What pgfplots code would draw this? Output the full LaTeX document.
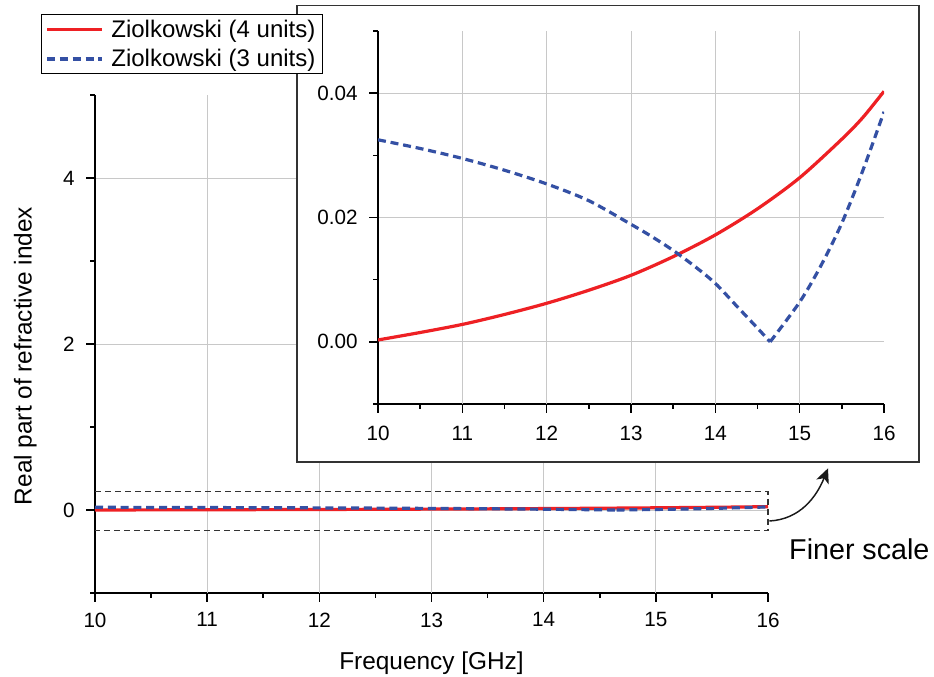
\documentclass[border=0pt]{standalone}
\usepackage{pgfplots}
\pgfplotsset{compat=1.18}
\usepackage{fontspec}
\setmainfont{Liberation Sans}
\usetikzlibrary{arrows.meta}
\definecolor{cred}{RGB}{238,32,36}
\definecolor{cblue}{RGB}{52,80,164}
\definecolor{cgrid}{RGB}{200,200,200}

\pgfplotstableread{
x y
10.0 0.0003
10.5 0.0015
11.0 0.0028
11.5 0.0044
12.0 0.0062
12.5 0.0083
13.0 0.0107
13.5 0.0137
14.0 0.0172
14.5 0.0214
15.0 0.0264
15.5 0.0326
15.75 0.0361
16.0 0.0403
}\redtab

\pgfplotstableread{
x y
10.0 0.0325
10.5 0.0311
11.0 0.0295
11.5 0.0276
12.0 0.0254
12.5 0.0227
13.0 0.0189
13.25 0.0169
13.5 0.0147
13.75 0.0122
14.0 0.0094
14.25 0.0058
14.5 0.0022
14.65 0.0000
}\bluetabA

\pgfplotstableread{
x y
14.65 0.0000
15.0 0.0064
15.25 0.0122
15.5 0.0191
15.75 0.0276
16.0 0.0370
}\bluetabB

\pgfplotsset{
  common/.style={
    scale only axis,
    xmin=10, xmax=16,
    axis x line*=bottom, axis y line*=left,
    axis line style={line width=1.2pt, black},
    tick align=outside,
    xtick={10,...,16}, minor xtick={10.5,11.5,...,15.5},
    major tick length=6.75pt, minor tick length=3.4pt,
    every tick/.style={black, line width=1.2pt},
    ymajorgrids,
    extra x ticks={11,12,13,14,15}, extra x tick labels={},
    extra x tick style={grid=major, major tick length=0pt},
    grid style={cgrid, line width=0.7pt},
    tick label style={font=\fontsize{15.5}{18}\selectfont},
    yticklabel style={xshift=-5pt},
    /pgf/number format/assume math mode=true,
  },
  redline/.style={cred, line width=2.4pt, no marks, smooth},
  blueline/.style={cblue, line width=2.4pt, no marks, smooth, dash pattern=on 6pt off 3.6pt},
}

\begin{document}
\begin{tikzpicture}
\useasboundingbox (0,0) rectangle (700.5pt,507.75pt);

\begin{axis}[common,
  at={(71.25pt,63pt)}, anchor=south west,
  width=504.75pt, height=373.5pt,
  ymin=-1, ymax=5,
  ytick={0,2,4}, minor ytick={-1,1,3,5},
  xticklabel style={yshift=-4.5pt},
  xlabel={Frequency [GHz]}, ylabel={Real part of refractive index},
  label style={font=\fontsize{18.3}{21}\selectfont},
  xlabel style={yshift=-4.5pt},
  ylabel style={yshift=13pt, xshift=-9pt},
  clip=false,
]
\addplot[redline] table[x=x,y=y] {\redtab};
\addplot[blueline] table[x=x,y=y] {\bluetabA};
\addplot[blueline] table[x=x,y=y] {\bluetabB};
\draw[black!80, line width=0.8pt, dash pattern=on 4.5pt off 3pt]
  (axis cs:10,0.22) -- (axis cs:16,0.22) -- (axis cs:16,-0.245) -- (axis cs:10,-0.245);
\end{axis}

\draw[-{Stealth[length=11pt,width=10pt,inset=3pt]}, line width=1.1pt, black!90]
  (577pt,117pt) to[out=3,in=-112] (621pt,156.5pt);
\node[font=\fontsize{21.5}{25}\selectfont, anchor=center] at (644.5pt,95.5pt) {Finer scale};

\filldraw[fill=white, draw=black!80, line width=0.9pt] (222.75pt,161.25pt) rectangle (689.25pt,503.5pt);

\begin{axis}[common,
  at={(283.5pt,204.75pt)}, anchor=south west,
  width=379.5pt, height=279.75pt,
  ymin=-0.01, ymax=0.05,
  ytick={0,0.02,0.04}, minor ytick={-0.01,0.01,0.03,0.05},
  scaled y ticks=false,
  xticklabel style={yshift=-6.5pt},
  yticklabel style={/pgf/number format/.cd, fixed, fixed zerofill, precision=2},
  legend style={at={(-0.666,1.0456)}, anchor=north west, draw=black, line width=0.8pt,
    fill=white, inner xsep=3pt, inner ysep=2pt, row sep=3.5pt,
    font=\fontsize{18}{21}\selectfont},
  legend cell align=left,
  legend image code/.code={\draw[#1] (3pt,0pt) -- (44pt,0pt); \path (48pt,0pt);},
]
\addplot[redline] table[x=x,y=y] {\redtab};
\addlegendentry{Ziolkowski (4 units)}
\addplot[blueline] table[x=x,y=y] {\bluetabA};
\addlegendentry{Ziolkowski (3 units)}
\addplot[blueline, forget plot] table[x=x,y=y] {\bluetabB};
\end{axis}
\end{tikzpicture}
\end{document}
